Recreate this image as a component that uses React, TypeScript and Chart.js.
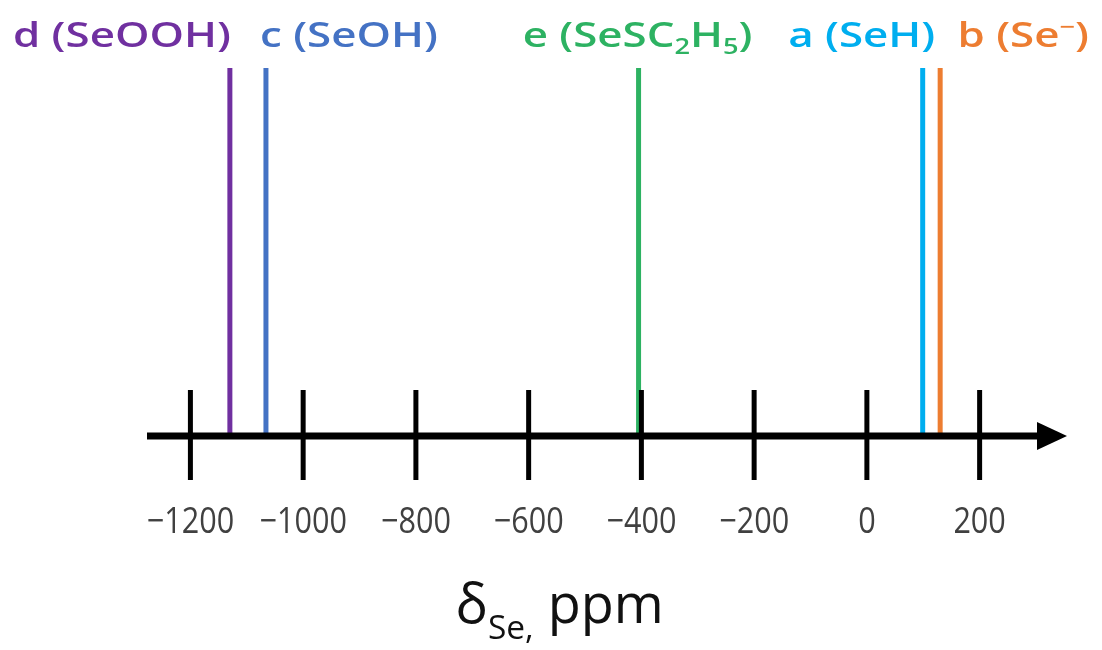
import React, { useEffect, useRef } from "react";
import { Chart, registerables } from "chart.js";

Chart.register(...registerables);

// ---- data ----
const speciesKeys = ["d", "c", "e", "a", "b"];
const shifts = [-1130, -1066, -405, 99, 130]; // δSe, ppm
const lineColors = ["#7030A0", "#4472C4", "#2DB262", "#00AEEF", "#ED7D31"];
type Seg = { t: string; mode?: "sub" | "sup" };
const labelParts: Seg[][] = [
  [{ t: "d (SeOOH)" }],
  [{ t: "c (SeOH)" }],
  [{ t: "e (SeSC" }, { t: "2", mode: "sub" }, { t: "H" }, { t: "5", mode: "sub" }, { t: ")" }],
  [{ t: "a (SeH)" }],
  [{ t: "b (Se" }, { t: "\u2212", mode: "sup" }, { t: ")" }],
];
const tickValues = [-1200, -1000, -800, -600, -400, -200, 0, 200];
const tickLabels = tickValues.map((v) => (v < 0 ? "\u2212" + Math.abs(v) : String(v)));
const axisMin = -1277;
const axisMax = 355;
const axisTitle: Seg[] = [{ t: "\u03B4" }, { t: "Se,", mode: "sub" }, { t: " ppm" }];

// ---- layout (pixels) ----
const labelOffsets = [-108, 83, -1, -61, 83];
const FONT = "'Open Sans', 'Noto Sans', sans-serif";

function segFont(size: number, weight: number, mode?: string) {
  const s = mode ? size * 0.62 : size;
  return `${weight} ${s}px ${FONT}`;
}

function drawRich(
  ctx: CanvasRenderingContext2D,
  segs: Seg[],
  cx: number,
  baseline: number,
  size: number,
  weight: number,
  color: string,
  sx: number,
  subDrop = 0.22
) {
  let w = 0;
  for (const s of segs) {
    ctx.font = segFont(size, weight, s.mode);
    w += ctx.measureText(s.t).width;
  }
  ctx.save();
  ctx.translate(cx - (w * sx) / 2, baseline);
  ctx.scale(sx, 1);
  ctx.fillStyle = color;
  ctx.textBaseline = "alphabetic";
  ctx.textAlign = "left";
  let x = 0;
  for (const s of segs) {
    ctx.font = segFont(size, weight, s.mode);
    const dy = s.mode === "sub" ? size * subDrop : s.mode === "sup" ? -size * 0.38 : 0;
    ctx.fillText(s.t, x, dy);
    x += ctx.measureText(s.t).width;
  }
  ctx.restore();
}

const axisPlugin = {
  id: "nmrAxis",
  afterDatasetsDraw(chart: any) {
    const ctx: CanvasRenderingContext2D = chart.ctx;
    const xs = chart.scales.x;
    const ys = chart.scales.y;
    const y0 = ys.getPixelForValue(0);
    const yTop = ys.getPixelForValue(1);
    const left = xs.getPixelForValue(axisMin);
    const right = xs.getPixelForValue(axisMax);
    ctx.save();
    // axis line
    ctx.strokeStyle = "#000";
    ctx.lineWidth = 7;
    ctx.lineCap = "butt";
    ctx.beginPath();
    ctx.moveTo(left, y0);
    ctx.lineTo(right - 20, y0);
    ctx.stroke();
    // arrow head
    ctx.fillStyle = "#000";
    ctx.beginPath();
    ctx.moveTo(right, y0);
    ctx.lineTo(right - 30, y0 - 14);
    ctx.lineTo(right - 30, y0 + 14);
    ctx.closePath();
    ctx.fill();
    // ticks
    ctx.lineWidth = 5;
    tickValues.forEach((v, i) => {
      const px = xs.getPixelForValue(v);
      ctx.beginPath();
      ctx.moveTo(px, y0 - 46);
      ctx.lineTo(px, y0 + 44);
      ctx.stroke();
      drawRich(ctx, [{ t: tickLabels[i] }], px, y0 + 97, 36, 400, "#404040", 0.85);
    });
    // title
    drawRich(ctx, axisTitle, xs.getPixelForValue(-545), y0 + 187, 54, 400, "#111", 1.0, 0.3);
    // species labels
    shifts.forEach((v, i) => {
      const px = xs.getPixelForValue(v) + labelOffsets[i];
      drawRich(ctx, labelParts[i], px, yTop - 21, 34, 600, lineColors[i], 1.29);
    });
    ctx.restore();
  },
};

export default function App() {
  const ref = useRef<HTMLCanvasElement | null>(null);
  useEffect(() => {
    if (!ref.current) return;
    const chart = new Chart(ref.current, {
      type: "scatter",
      data: {
        datasets: speciesKeys.map((k, i) => ({
          label: k,
          data: [
            { x: shifts[i], y: 0 },
            { x: shifts[i], y: 1 },
          ],
          showLine: true,
          borderColor: lineColors[i],
          backgroundColor: lineColors[i],
          borderWidth: 5,
          pointRadius: 0,
          borderCapStyle: "butt",
        })),
      },
      options: {
        responsive: false,
        animation: false,
        events: [],
        layout: { padding: { left: 147, right: 35, top: 68, bottom: 214 } },
        plugins: { legend: { display: false }, tooltip: { enabled: false } },
        scales: {
          x: { type: "linear", display: false, min: axisMin, max: axisMax },
          y: { type: "linear", display: false, min: 0, max: 1 },
        },
      },
      plugins: [axisPlugin],
    } as any);
    return () => chart.destroy();
  }, []);
  return (
    <div style={{ position: "fixed", left: 0, top: 0, width: 1102, height: 650, background: "#fff" }}>
      <canvas ref={ref} width={1102} height={650} style={{ display: "block" }} />
    </div>
  );
}
